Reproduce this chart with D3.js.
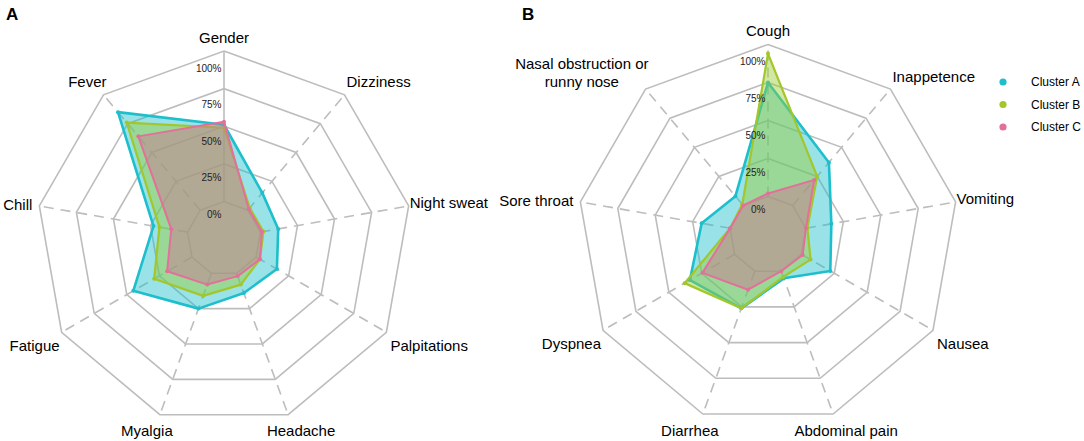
<html>
<head>
<script src="https://d3js.org/d3.v7.min.js"></script>
<style>
  body { margin: 0; background: #fff; }
  text { font-family: "Liberation Sans", Arial, sans-serif; }
</style>
</head>
<body>
<svg id="svg" width="1084" height="441"></svg>
<script>
// **** Data ****
const symptomsA = ["Gender", "Dizziness", "Night sweat", "Palpitations", "Headache", "Myalgia", "Fatigue", "Chill", "Fever"];
const symptomsB = ["Cough", "Inappetence", "Vomiting", "Nausea", "Abdominal pain", "Diarrhea", "Dyspnea", "Sore throat", "Nasal obstruction or\nrunny nose"];
const clusters = ["Cluster A", "Cluster B", "Cluster C"];

// panel A values (fraction of patients)
const aClusterA = [0.51, 0.15, 0.12, 0.16, 0.14, 0.25, 0.45, 0.23, 0.85];
const aClusterB = [0.49, 0.02, 0.02, 0.03, 0.08, 0.16, 0.29, 0.19, 0.76];
const aClusterC = [0.53, 0.01, 0.01, 0.03, 0.02, 0.08, 0.19, 0.11, 0.64];

// panel B values
const bClusterA = [0.75, 0.37, 0.17, 0.22, 0.05, 0.26, 0.34, 0.19, 0.08];
const bClusterB = [0.94, 0.25, 0.01, 0.07, 0.04, 0.26, 0.38, 0.00, 0.01];
const bClusterC = [0.02, 0.22, 0.00, 0.01, 0.00, 0.13, 0.245, 0.00, 0.00];

const gridTicks = [0, 0.25, 0.5, 0.75, 1];
const tickLabels = ["0%", "25%", "50%", "75%", "100%"];

// **** Styles ****
const colors = ["#1dbfcc", "#a3c62a", "#e2709a"];
const fills = ["#1dbfcc", "#99cc33", "#d07094"];
const strokeW = [2.6, 2.2, 2.0];

// label placement around the outer ring, by axis position
const labelAnchor = ["middle", "start", "start", "start", "middle", "middle", "end", "end", "end"];
const labelShift = [[0, -14], [2, -13], [1, -3], [4, 13], [13, 16], [-13, 16], [-2, 13], [-7, -1], [3, -13]];

const svg = d3.select('#svg');

function drawRadar(opts) {
    const n = opts.axes.length;
    const g = svg.append('g').attr('transform', `translate(${opts.cx},${opts.cy})`);
    const r = d3.scaleLinear().domain([0, 1]).range([opts.r0, opts.R]);
    const angle = d3.scaleLinear().domain([0, n]).range([0, 2 * Math.PI]);
    const pt = (i, rad) => [rad * Math.sin(angle(i)), -rad * Math.cos(angle(i))];

    // rings
    gridTicks.forEach(t => {
        g.append('path')
            .attr('d', d3.lineRadial()
                .angle((d, i) => angle(i))
                .radius(r(t))
                .curve(d3.curveLinearClosed)(d3.range(n)))
            .attr('fill', 'none')
            .attr('stroke', '#bdbdbd')
            .attr('stroke-width', 1.6);
    });

    // spokes
    d3.range(n).forEach(i => {
        const a = pt(i, opts.r0), b = pt(i, opts.R);
        g.append('line')
            .attr('x1', a[0]).attr('y1', a[1])
            .attr('x2', b[0]).attr('y2', b[1])
            .attr('stroke', '#bdbdbd')
            .attr('stroke-width', 1.6)
            .attr('stroke-dasharray', (i === 0 && opts.firstSolid) ? null : '10,7');
    });

    // cluster polygons
    const poly = d3.lineRadial()
        .angle((d, i) => angle(i))
        .radius(d => r(d))
        .curve(d3.curveLinearClosed);

    opts.series.forEach((vals, k) => {
        g.append('path')
            .attr('d', poly(vals))
            .attr('fill', fills[k])
            .attr('fill-opacity', 0.45)
            .attr('stroke', colors[k])
            .attr('stroke-width', strokeW[k])
            .attr('stroke-linejoin', 'round');
        g.selectAll(null)
            .data(vals)
            .enter()
            .append('circle')
            .attr('cx', (d, i) => pt(i, r(d))[0])
            .attr('cy', (d, i) => pt(i, r(d))[1])
            .attr('r', 2)
            .attr('fill', colors[k]);
    });

    // percentage labels along the first axis
    const labelR = t => r(t) - (13 + 4 * t);
    g.selectAll(null)
        .data(gridTicks)
        .enter()
        .append('text')
        .attr('x', -2.5)
        .attr('y', d => -labelR(d))
        .attr('text-anchor', 'end')
        .attr('dominant-baseline', 'central')
        .attr('font-size', 10)
        .attr('fill', '#222')
        .text((d, i) => tickLabels[i]);

    // axis labels
    opts.axes.forEach((name, i) => {
        const v = pt(i, opts.R);
        const lines = name.split('\n');
        const x = v[0] + labelShift[i][0];
        const yc = v[1] + labelShift[i][1] - (lines.length > 1 ? 3.5 : 0);
        const t = g.append('text')
            .attr('font-size', 15)
            .attr('fill', '#000');
        lines.forEach((ln, j) => {
            t.append('tspan')
                .attr('x', 0)
                .attr('y', yc + (j - (lines.length - 1) / 2) * 18)
                .attr('dominant-baseline', 'central')
                .text(ln);
        });
        if (lines.length === 1) {
            t.attr('text-anchor', labelAnchor[i]);
            t.selectAll('tspan').attr('x', x);
        } else {
            // centred block, aligned like a single label
            const w = t.node().getBBox().width;
            let mid = x;
            if (labelAnchor[i] === 'end') mid = x - w / 2;
            if (labelAnchor[i] === 'start') mid = x + w / 2;
            t.attr('text-anchor', 'middle');
            t.selectAll('tspan').attr('x', mid);
        }
    });

    // panel tag
    svg.append('text')
        .attr('x', opts.tagX).attr('y', 20)
        .attr('font-size', 17)
        .attr('font-weight', 'bold')
        .text(opts.tag);
}

drawRadar({
    tag: 'A', tagX: 6, cx: 224, cy: 238.5, R: 187.5, r0: 37,
    axes: symptomsA, series: [aClusterA, aClusterB, aClusterC], firstSolid: true
});
drawRadar({
    tag: 'B', tagX: 522, cx: 768, cy: 235, R: 190.5, r0: 38.5,
    axes: symptomsB, series: [bClusterA, bClusterB, bClusterC], firstSolid: false
});

// legend
const legend = svg.append('g').attr('transform', 'translate(1003,82)');
clusters.forEach((c, k) => {
    legend.append('circle')
        .attr('cx', 0).attr('cy', k * 22.5)
        .attr('r', 3.6)
        .attr('fill', colors[k]);
    legend.append('text')
        .attr('x', 28).attr('y', k * 22.5)
        .attr('dominant-baseline', 'central')
        .attr('font-size', 12)
        .text(c);
});
</script>
</body>
</html>
